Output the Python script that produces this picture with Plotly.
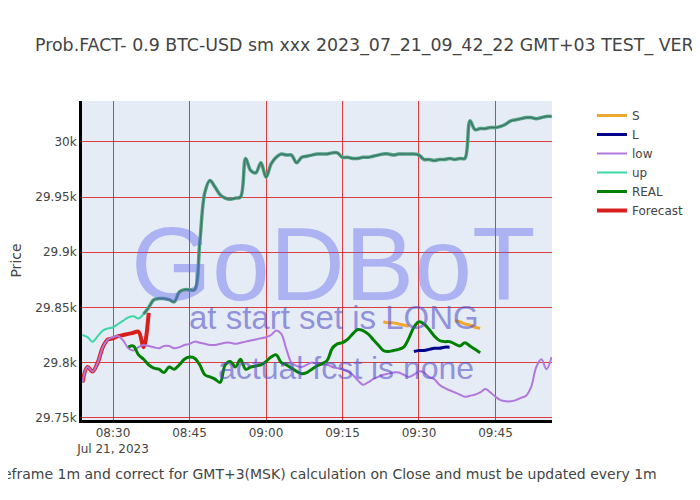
import pandas as pd
import plotly.graph_objects as go

# 1-minute samples
up_start = "2023-07-21 08:24"
up_vals = [29825, 29823, 29819, 29824, 29829, 29831, 29832, 29835, 29838, 29841,
           29842, 29840, 29844, 29850, 29857, 29858, 29858, 29857, 29855, 29864,
           29866, 29866, 29866, 29908, 29954, 29965, 29959, 29952, 29949, 29948,
           29949, 29950, 29985, 29974, 29972, 29981, 29968, 29980, 29986, 29989,
           29988, 29988, 29981, 29986, 29987, 29988, 29989, 29989, 29989, 29990,
           29990, 29986, 29986, 29985, 29985, 29986, 29986, 29987, 29988, 29989,
           29989, 29988, 29989, 29989, 29989, 29989, 29988, 29984, 29984, 29983,
           29984, 29984, 29985, 29984, 29985, 29985, 30019, 30011, 30012, 30012,
           30013, 30013, 30014, 30016, 30019, 30020, 30021, 30022, 30022, 30021,
           30022, 30023, 30023]

low_start = "2023-07-21 08:24"
low_vals = [29782, 29796, 29792, 29800, 29814, 29821, 29823, 29824, 29820, 29813,
            29811, 29814, 29816, 29815, 29814, 29813, 29815, 29815, 29813, 29814,
            29816, 29817, 29819, 29818, 29817, 29816, 29816, 29817, 29818, 29818,
            29817, 29818, 29819, 29820, 29821, 29822, 29823, 29825, 29829, 29826,
            29812, 29800, 29797, 29796, 29798, 29800, 29799, 29798, 29798, 29796,
            29795, 29794, 29792, 29789, 29784, 29780, 29782, 29785, 29787, 29789,
            29790, 29791, 29791, 29789, 29787, 29789, 29792, 29791, 29787, 29785,
            29780, 29777, 29775, 29773, 29771, 29769, 29770, 29771, 29773, 29776,
            29773, 29769, 29766, 29765, 29765, 29766, 29768, 29770, 29778, 29796,
            29803, 29794, 29805]

real_start = "2023-07-21 08:33"
real_vals = [29814, 29815, 29807, 29803, 29798, 29795, 29794, 29791, 29796, 29794,
             29798, 29803, 29805, 29804, 29798, 29789, 29787, 29785, 29782, 29798,
             29801, 29796, 29803, 29794, 29796, 29797, 29798, 29801, 29805, 29807,
             29800, 29798, 29795, 29792, 29790, 29791, 29794, 29797, 29799, 29802,
             29813, 29817, 29818, 29821, 29826, 29830, 29829, 29826, 29821, 29816,
             29811, 29810, 29811, 29812, 29814, 29822, 29832, 29837, 29835, 29830,
             29824, 29820, 29819, 29819, 29817, 29815, 29818, 29815, 29812, 29809]

fcst_start = "2023-07-21 08:24"
fcst_vals = [29782, 29796, 29792, 29800, 29814, 29821, 29822, 29824, 29825, 29826,
             29827, 29828, 29814, 29845]

s_start = "2023-07-21 09:23"
s_vals = [29837, 29836, 29836, 29835, 29834, 29833,
          None, None, None, None, None, None, None, None,
          29838, 29837, 29835, 29834, 29832, 29831]

l_start = "2023-07-21 09:29"
l_vals = [29810, 29811, 29811, 29812, 29813, 29813, 29814, 29814]


def minutes(start, vals):
    return pd.date_range(start, periods=len(vals), freq="min")


up_t = minutes(up_start, up_vals)

fig = go.Figure()

fig.add_trace(go.Scatter(x=minutes(fcst_start, fcst_vals), y=fcst_vals, name="Forecast",
                         mode="lines", line=dict(color="#d91e1e", width=4, shape="spline"),
                         legendrank=6))
fig.add_trace(go.Scatter(x=minutes(low_start, low_vals), y=low_vals, name="low",
                         mode="lines", line=dict(color="#b277dd", width=2, shape="spline"),
                         legendrank=3))
fig.add_trace(go.Scatter(x=up_t, y=up_vals, name="up",
                         mode="lines", line=dict(color="#3dd6a5", width=2, shape="spline"),
                         legendrank=4))
# the forecast band drawn over "up" from 08:36 on
fig.add_trace(go.Scatter(x=up_t[12:], y=up_vals[12:], showlegend=False, hoverinfo="skip",
                         mode="lines", line=dict(color="#52a382", width=3.5, shape="spline")))
fig.add_trace(go.Scatter(x=up_t[12:], y=up_vals[12:], showlegend=False, hoverinfo="skip",
                         mode="lines", line=dict(color="#3f7169", width=1.2, shape="spline")))
fig.add_trace(go.Scatter(x=minutes(real_start, real_vals), y=real_vals, name="REAL",
                         mode="lines", line=dict(color="green", width=3, shape="spline"),
                         legendrank=5))
fig.add_trace(go.Scatter(x=minutes(s_start, s_vals), y=s_vals, name="S",
                         mode="lines", line=dict(color="#f0a830", width=3, shape="spline"),
                         legendrank=1))
fig.add_trace(go.Scatter(x=minutes(l_start, l_vals), y=l_vals, name="L",
                         mode="lines", line=dict(color="darkblue", width=3, shape="spline"),
                         legendrank=2))

wm_big = "rgba(95,100,235,0.42)"
wm_small = "rgba(80,75,200,0.58)"
fig.add_annotation(text="GoDBoT", xref="paper", yref="paper", x=0.536, y=0.49,
                   showarrow=False, font=dict(family="Liberation Sans", size=104, color=wm_big))
fig.add_annotation(text="at start set is LONG", xref="paper", yref="paper", x=0.536, y=0.256,
                   showarrow=False, font=dict(family="Liberation Sans", size=33, color=wm_small))
fig.add_annotation(text="actual fcst is none", xref="paper", yref="paper", x=0.562, y=0.10,
                   showarrow=False, font=dict(family="Liberation Sans", size=32, color=wm_small))

grid = "rgba(220,30,30,0.85)"
fig.update_layout(
    width=700, height=500,
    title=dict(text="Prob.FACT- 0.9 BTC-USD sm xxx 2023_07_21_09_42_22 GMT+03 TEST_ VERSION",
               x=0.0386, xanchor="left", y=0.926, yanchor="middle", font=dict(size=17.4)),
    font=dict(family="Verdana, DejaVu Sans", color="#444"),
    margin=dict(l=74, r=156, t=93, b=88),
    plot_bgcolor="#e5ecf6",
    paper_bgcolor="white",
    legend=dict(x=1.085, y=1, traceorder="normal"),
    xaxis=dict(range=["2023-07-21 08:23:55", "2023-07-21 09:56:05"], automargin=False,
               showgrid=True, gridcolor=grid, gridwidth=1, zeroline=False,
               showline=True, linecolor="black", linewidth=3,
               title=dict(text="Timeframe 1m and correct for GMT+3(MSK) calculation on Close and must be updated every 1m")),
    yaxis=dict(range=[29748, 30037], dtick=50, automargin=False,
               showgrid=True, gridcolor=grid, gridwidth=1, zeroline=False,
               showline=True, linecolor="black", linewidth=3,
               title=dict(text="Price")),
)

fig.write_html("out.html")
